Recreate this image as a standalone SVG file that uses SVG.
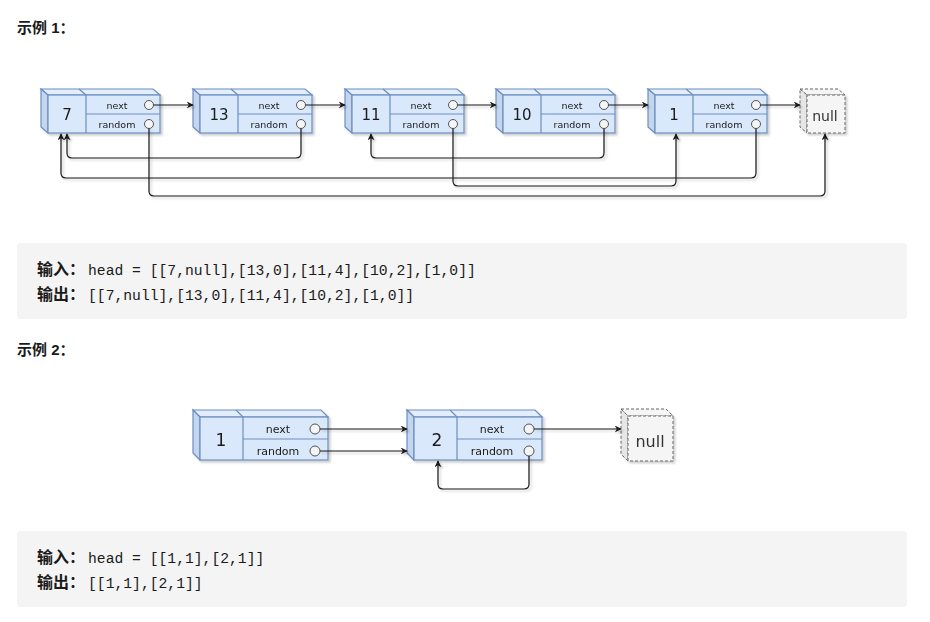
<svg xmlns="http://www.w3.org/2000/svg" width="930" height="622" viewBox="0 0 930 622">
<style>
.title{font-family:"Liberation Sans","Noto Sans CJK SC",sans-serif;font-weight:bold;font-size:15px;fill:#1a1a1a}
.cjk{font-family:"Noto Sans CJK SC",sans-serif;font-weight:bold;font-size:16px;fill:#1a1a1a}
.code{font-family:"Liberation Mono",monospace;font-size:14.7px;fill:#1a1a1a}
.front{fill:#dae8fc;stroke:#6c8ebf;stroke-width:1.2}
.topf{fill:#e3edfc;stroke:#6c8ebf;stroke-width:1.2}
.side{fill:#c4d5ee;stroke:#6c8ebf;stroke-width:1.2}
.div{stroke:#6c8ebf;stroke-width:1.2;fill:none}
.port{fill:#f5f5f5;stroke:#555;stroke-width:1}
.lbl{font-family:"DejaVu Sans",sans-serif;font-size:9.5px;fill:#1a1a1a;text-anchor:middle}
.lbl2{font-family:"DejaVu Sans",sans-serif;font-size:11px;fill:#1a1a1a;text-anchor:middle}
.num{font-family:"DejaVu Sans",sans-serif;font-size:15px;fill:#1a1a1a;text-anchor:middle}
.num2{font-family:"DejaVu Sans",sans-serif;font-size:17px;fill:#1a1a1a;text-anchor:middle}
.nullf{fill:#f5f5f5;stroke:#666;stroke-width:1;stroke-dasharray:3 2}
.nulls{fill:#e6e6e6;stroke:#666;stroke-width:1;stroke-dasharray:3 2}
.nt{font-family:"DejaVu Sans",sans-serif;fill:#333;text-anchor:middle}
.edge{fill:none;stroke:#1a1a1a;stroke-width:1.2;marker-end:url(#arr)}
.box{fill:#f4f4f4}
</style>
<defs>
<marker id="arr" viewBox="0 0 10 10" refX="9" refY="5" markerWidth="7" markerHeight="7" markerUnits="userSpaceOnUse" orient="auto">
<path d="M0,0 L10,5 L0,10 L3,5 Z" fill="#1a1a1a"/>
</marker>
<filter id="sh" x="-10%" y="-10%" width="130%" height="140%">
<feDropShadow dx="2" dy="2" stdDeviation="1.2" flood-color="#000" flood-opacity="0.2"/>
</filter>
</defs>
<rect width="930" height="622" fill="#fff"/>

<text class="title" x="17" y="33">示例 1：</text>

<g id="ex1-nodes" filter="url(#sh)">
<g id="n7">
<polygon class="topf" points="41,89 153,89 160,95 48,95"/>
<polygon class="side" points="41,89 48,95 48,133 41,127"/>
<rect class="front" x="48" y="95" width="112" height="38"/>
<path class="div" d="M79,89 L86,95 M86,95 V133 M86,114 H160"/>
<text class="num" x="67" y="120">7</text>
<text class="lbl" x="117" y="108.5">next</text>
<text class="lbl" x="117" y="128">random</text>
<circle class="port" cx="149" cy="105" r="4.5"/>
<circle class="port" cx="149" cy="124" r="4.5"/>
</g>
<g id="n13" transform="translate(152,0)">
<polygon class="topf" points="41,89 153,89 160,95 48,95"/>
<polygon class="side" points="41,89 48,95 48,133 41,127"/>
<rect class="front" x="48" y="95" width="112" height="38"/>
<path class="div" d="M79,89 L86,95 M86,95 V133 M86,114 H160"/>
<text class="num" x="67" y="120">13</text>
<text class="lbl" x="117" y="108.5">next</text>
<text class="lbl" x="117" y="128">random</text>
<circle class="port" cx="149" cy="105" r="4.5"/>
<circle class="port" cx="149" cy="124" r="4.5"/>
</g>
<g id="n11" transform="translate(304,0)">
<polygon class="topf" points="41,89 153,89 160,95 48,95"/>
<polygon class="side" points="41,89 48,95 48,133 41,127"/>
<rect class="front" x="48" y="95" width="112" height="38"/>
<path class="div" d="M79,89 L86,95 M86,95 V133 M86,114 H160"/>
<text class="num" x="67" y="120">11</text>
<text class="lbl" x="117" y="108.5">next</text>
<text class="lbl" x="117" y="128">random</text>
<circle class="port" cx="149" cy="105" r="4.5"/>
<circle class="port" cx="149" cy="124" r="4.5"/>
</g>
<g id="n10" transform="translate(455,0)">
<polygon class="topf" points="41,89 153,89 160,95 48,95"/>
<polygon class="side" points="41,89 48,95 48,133 41,127"/>
<rect class="front" x="48" y="95" width="112" height="38"/>
<path class="div" d="M79,89 L86,95 M86,95 V133 M86,114 H160"/>
<text class="num" x="67" y="120">10</text>
<text class="lbl" x="117" y="108.5">next</text>
<text class="lbl" x="117" y="128">random</text>
<circle class="port" cx="149" cy="105" r="4.5"/>
<circle class="port" cx="149" cy="124" r="4.5"/>
</g>
<g id="n1" transform="translate(607,0)">
<polygon class="topf" points="41,89 153,89 160,95 48,95"/>
<polygon class="side" points="41,89 48,95 48,133 41,127"/>
<rect class="front" x="48" y="95" width="112" height="38"/>
<path class="div" d="M79,89 L86,95 M86,95 V133 M86,114 H160"/>
<text class="num" x="67" y="120">1</text>
<text class="lbl" x="117" y="108.5">next</text>
<text class="lbl" x="117" y="128">random</text>
<circle class="port" cx="149" cy="105" r="4.5"/>
<circle class="port" cx="149" cy="124" r="4.5"/>
</g>
<g id="null1">
<polygon class="nullf" points="800,89 838,89 845,95 807,95"/>
<polygon class="nulls" points="800,89 807,95 807,133 800,127"/>
<rect class="nullf" x="807" y="95" width="38" height="38"/>
<text class="nt" x="825" y="121" font-size="14">null</text>
</g>
</g>

<g id="ex1-edges" filter="url(#sh)">
<path class="edge" d="M153.5,105 H193"/>
<path class="edge" d="M305.5,105 H345"/>
<path class="edge" d="M457.5,105 H496"/>
<path class="edge" d="M608.5,105 H648"/>
<path class="edge" d="M760.5,105 H800"/>
<path class="edge" d="M149,128.5 V191 Q149,196 154,196 H820 Q825,196 825,191 V134"/>
<path class="edge" d="M301,128.5 V153 Q301,158 296,158 H72 Q67,158 67,153 V134"/>
<path class="edge" d="M453,128.5 V181 Q453,186 458,186 H671 Q676,186 676,181 V134"/>
<path class="edge" d="M604,128.5 V153 Q604,158 599,158 H376 Q371,158 371,153 V134"/>
<path class="edge" d="M756,128.5 V173 Q756,178 751,178 H66 Q61,178 61,173 V134"/>
</g>

<rect class="box" x="17" y="243" width="890" height="76" rx="4"/>
<text x="37" y="275"><tspan class="cjk">输入：</tspan><tspan class="code" x="88">head = [[7,null],[13,0],[11,4],[10,2],[1,0]]</tspan></text>
<text x="37" y="300"><tspan class="cjk">输出：</tspan><tspan class="code" x="88">[[7,null],[13,0],[11,4],[10,2],[1,0]]</tspan></text>

<text class="title" x="17" y="355">示例 2：</text>

<g id="ex2-nodes" filter="url(#sh)">
<g id="m1">
<polygon class="topf" points="193,410 321,410 328,417 200,417"/>
<polygon class="side" points="193,410 200,417 200,460 193,453"/>
<rect class="front" x="200" y="417" width="128" height="43"/>
<path class="div" d="M236,410 L243,417 M243,417 V460 M243,439 H328"/>
<text class="num2" x="221" y="446">1</text>
<text class="lbl2" x="278" y="433">next</text>
<text class="lbl2" x="278" y="455">random</text>
<circle class="port" cx="315" cy="429" r="5"/>
<circle class="port" cx="315" cy="451" r="5"/>
</g>
<g id="m2" transform="translate(214,0)">
<polygon class="topf" points="193,410 321,410 328,417 200,417"/>
<polygon class="side" points="193,410 200,417 200,460 193,453"/>
<rect class="front" x="200" y="417" width="128" height="43"/>
<path class="div" d="M236,410 L243,417 M243,417 V460 M243,439 H328"/>
<text class="num2" x="223" y="446">2</text>
<text class="lbl2" x="278" y="433">next</text>
<text class="lbl2" x="278" y="455">random</text>
<circle class="port" cx="315" cy="429" r="5"/>
<circle class="port" cx="315" cy="451" r="5"/>
</g>
<g id="null2">
<polygon class="nullf" points="621,409 666,409 673,416 628,416"/>
<polygon class="nulls" points="621,409 628,416 628,461 621,454"/>
<rect class="nullf" x="628" y="416" width="45" height="45"/>
<text class="nt" x="650" y="447" font-size="16">null</text>
</g>
</g>

<g id="ex2-edges" filter="url(#sh)">
<path class="edge" d="M320,429 H407"/>
<path class="edge" d="M320,451 H407"/>
<path class="edge" d="M534,429 H621"/>
<path class="edge" d="M529,456 V484 Q529,489 524,489 H443 Q438,489 438,484 V461"/>
</g>

<rect class="box" x="17" y="531" width="890" height="76" rx="4"/>
<text x="37" y="563"><tspan class="cjk">输入：</tspan><tspan class="code" x="88">head = [[1,1],[2,1]]</tspan></text>
<text x="37" y="588"><tspan class="cjk">输出：</tspan><tspan class="code" x="88">[[1,1],[2,1]]</tspan></text>
</svg>
